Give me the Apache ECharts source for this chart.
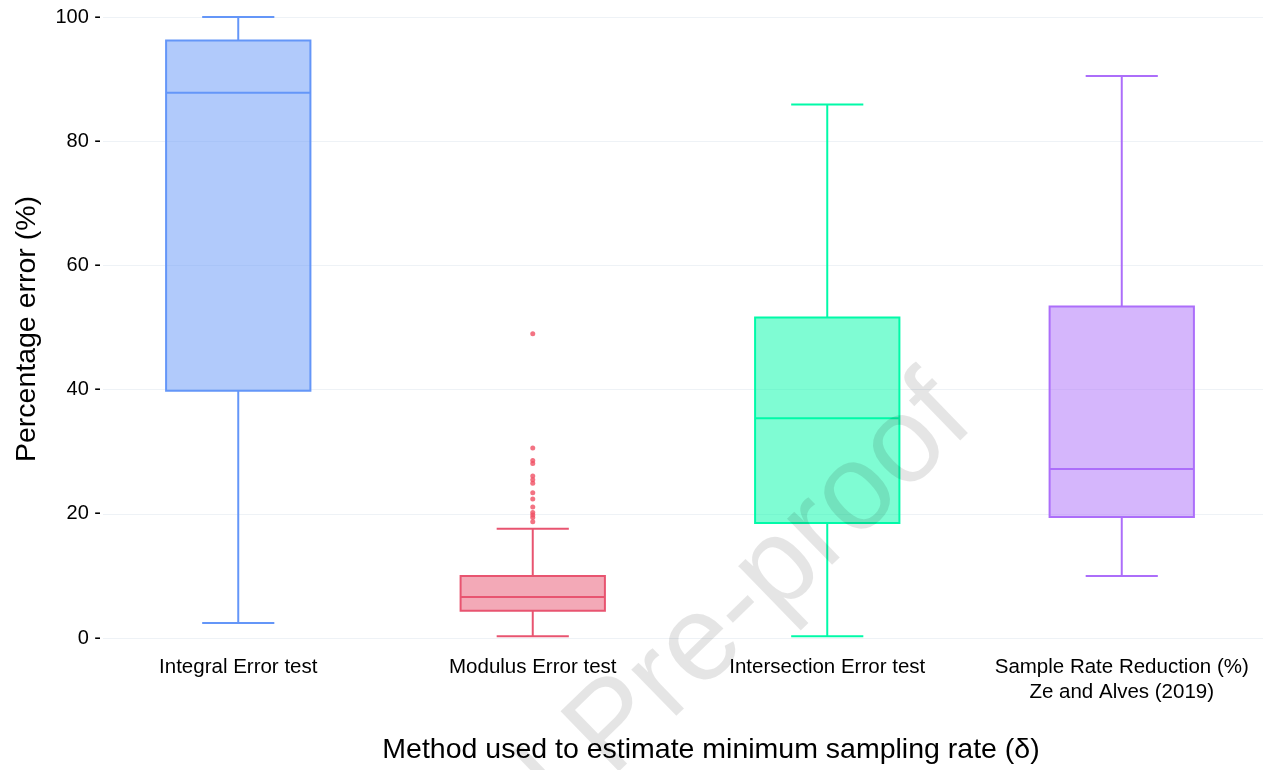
<!DOCTYPE html>
<html>
<head>
<meta charset="utf-8">
<script src="https://cdn.jsdelivr.net/npm/echarts@6/dist/echarts.min.js"></script>
<style>
  html, body { margin: 0; padding: 0; background: #fff; }
  #chart { width: 1269px; height: 770px; }
</style>
</head>
<body>
<div id="chart"></div>
<script>
// Methods compared
const categories = [
  'Integral Error test',
  'Modulus Error test',
  'Intersection Error test',
  'Sample Rate Reduction (%)\nZe and Alves (2019)'
];

// Box summaries: [lower whisker, Q1, median, Q3, upper whisker] (percentage error)
const integralBox     = [2.4, 39.8, 87.8, 96.2, 100];
const modulusBox      = [0.3, 4.4, 6.6, 10.0, 17.6];
const intersectionBox = [0.3, 18.5, 35.4, 51.6, 85.9];
const sampleRateBox   = [10.0, 19.5, 27.2, 53.4, 90.5];

// Outliers above the upper whisker of the modulus error test
const modulusOutliers = [49.0, 30.6, 28.6, 28.1, 26.1, 25.5, 24.9, 23.4, 22.4, 21.1, 20.2, 19.8, 19.4, 18.7];

// Y axis ticks
const yTicks = [0, 20, 40, 60, 80, 100];

const lineColors = ['rgb(100,150,248)', 'rgb(232,84,112)', 'rgb(0,250,168)', 'rgb(172,110,250)'];
const fillColors = ['rgba(100,150,248,0.5)', 'rgba(232,84,112,0.5)', 'rgba(0,250,168,0.5)', 'rgba(172,110,250,0.5)'];

const boxes = [integralBox, modulusBox, intersectionBox, sampleRateBox];

const font = '"Liberation Sans", Arial, Helvetica, sans-serif';
const chart = echarts.init(document.getElementById('chart'), null, { renderer: 'canvas' });

const yMin = yTicks[0];
const yMax = yTicks[yTicks.length - 1];
const yStep = yTicks[1] - yTicks[0];

// Box width as a share of one category band; whisker caps are half of it
const BOX_SHARE = 0.49;

function renderBox(params, api) {
  const idx = api.value(0);
  const lo = api.value(1), q1 = api.value(2), med = api.value(3), q3 = api.value(4), hi = api.value(5);
  const band = api.size([1, 0])[0];
  const half = band * BOX_SHARE / 2;
  const capHalf = half / 2;
  const pLo = api.coord([idx, lo]);
  const pQ1 = api.coord([idx, q1]);
  const pMed = api.coord([idx, med]);
  const pQ3 = api.coord([idx, q3]);
  const pHi = api.coord([idx, hi]);
  const cx = pMed[0];
  const stroke = lineColors[idx];
  const ls = { stroke: stroke, lineWidth: 2, fill: null };
  return {
    type: 'group',
    children: [
      { type: 'line', shape: { x1: cx, y1: pQ3[1], x2: cx, y2: pHi[1] }, style: ls },
      { type: 'line', shape: { x1: cx, y1: pLo[1], x2: cx, y2: pQ1[1] }, style: ls },
      { type: 'line', shape: { x1: cx - capHalf, y1: pHi[1], x2: cx + capHalf, y2: pHi[1] }, style: ls },
      { type: 'line', shape: { x1: cx - capHalf, y1: pLo[1], x2: cx + capHalf, y2: pLo[1] }, style: ls },
      {
        type: 'rect',
        shape: { x: cx - half, y: pQ3[1], width: half * 2, height: pQ1[1] - pQ3[1] },
        style: { fill: fillColors[idx], stroke: stroke, lineWidth: 2 }
      },
      { type: 'line', shape: { x1: cx - half, y1: pMed[1], x2: cx + half, y2: pMed[1] }, style: ls }
    ]
  };
}

const option = {
  backgroundColor: '#ffffff',
  animation: false,
  textStyle: { fontFamily: font },
  grid: [
    // plotting area for the boxes
    { left: 91, width: 1180, top: 17, bottom: 132 },
    // reference grid lines and y tick labels
    { left: 103, right: 6, top: 17, bottom: 132 }
  ],
  xAxis: [
    {
      type: 'category',
      gridIndex: 0,
      data: categories,
      axisLine: { show: false },
      axisTick: { show: false },
      splitLine: { show: false },
      axisLabel: {
        interval: 0,
        margin: 17,
        fontSize: 20.5,
        lineHeight: 25,
        color: '#000',
        fontFamily: font,
        verticalAlign: 'top'
      }
    },
    {
      type: 'value',
      gridIndex: 1,
      show: false
    }
  ],
  yAxis: [
    {
      type: 'value',
      gridIndex: 0,
      min: yMin, max: yMax, interval: yStep,
      show: false
    },
    {
      type: 'value',
      gridIndex: 1,
      min: yMin, max: yMax, interval: yStep,
      axisLine: { show: false },
      axisTick: { show: false },
      splitLine: { show: true, lineStyle: { color: '#eef2f6', width: 1 } },
      axisLabel: {
        margin: 2,
        fontSize: 20,
        color: '#000',
        fontFamily: font,
        formatter: '{value} -'
      }
    }
  ],
  series: [
    {
      type: 'custom',
      xAxisIndex: 0,
      yAxisIndex: 0,
      renderItem: renderBox,
      encode: { x: 0, y: [1, 2, 3, 4, 5] },
      data: boxes.map((b, i) => [i].concat(b)),
      z: 3
    },
    {
      type: 'scatter',
      xAxisIndex: 0,
      yAxisIndex: 0,
      symbol: 'circle',
      symbolSize: 5,
      itemStyle: { color: 'rgb(240,80,100)' },
      data: modulusOutliers.map(v => [1, v]),
      z: 4
    }
  ],
  graphic: [
    {
      type: 'text',
      x: 711,
      y: 750,
      style: {
        text: 'Method used to estimate minimum sampling rate (δ)',
        fontSize: 28.5,
        fontFamily: font,
        fill: '#000',
        textAlign: 'center',
        textVerticalAlign: 'middle'
      }
    },
    {
      type: 'text',
      x: 27,
      y: 329,
      rotation: Math.PI / 2,
      style: {
        text: 'Percentage error (%)',
        fontSize: 28.5,
        fontFamily: font,
        fill: '#000',
        textAlign: 'center',
        textVerticalAlign: 'middle'
      }
    },
    {
      // diagonal watermark
      type: 'text',
      x: 996,
      y: 444,
      rotation: 0.77,
      z: 100,
      silent: true,
      style: {
        text: 'Journal Pre-proof',
        fontSize: 122,
        fontFamily: font,
        fill: 'rgba(0,0,0,0.1)',
        textAlign: 'right',
        textVerticalAlign: 'bottom'
      }
    }
  ]
};

chart.setOption(option);
</script>
</body>
</html>
